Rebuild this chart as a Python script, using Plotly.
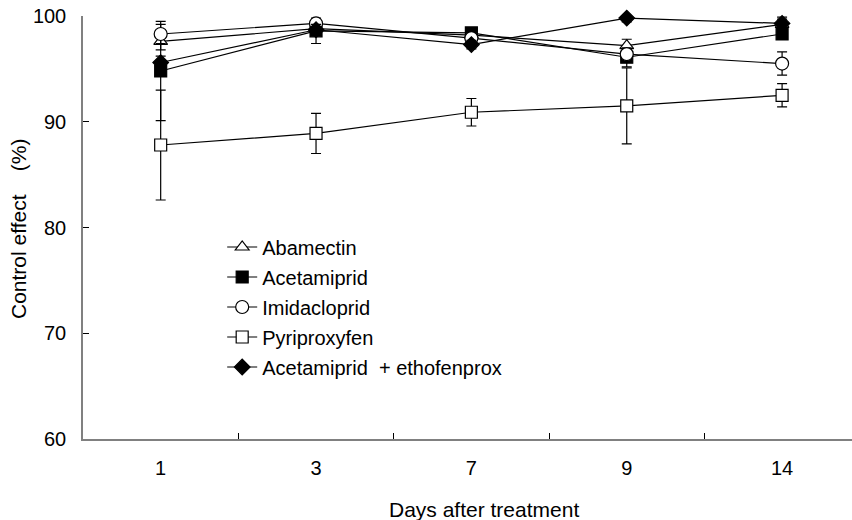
import plotly.graph_objects as go

# Days after treatment (category labels)
days = ["1", "3", "7", "9", "14"]

# Control effect (%) per insecticide, with standard deviations
abamectin = [97.6, 98.8, 98.2, 97.2, 99.2]
abamectin_sd = [0.8, 0.5, 0.5, 0.6, 0.5]

acetamiprid = [94.8, 98.6, 98.4, 96.1, 98.3]
acetamiprid_sd = [4.7, 1.2, 0.4, 0.9, 0.5]

imidacloprid = [98.3, 99.3, 97.9, 96.4, 95.5]
imidacloprid_sd = [0.9, 0.3, 0.5, 0.5, 1.1]

pyriproxyfen = [87.8, 88.9, 90.9, 91.5, 92.5]
pyriproxyfen_sd = [5.2, 1.9, 1.3, 3.6, 1.1]

combo = [95.6, 98.7, 97.3, 99.8, 99.3]
combo_sd = [0.6, 0.5, 0.4, 0.35, 0.6]

series = [
    ("Abamectin", abamectin, abamectin_sd, "triangle-up", "white", 12),
    ("Acetamiprid", acetamiprid, acetamiprid_sd, "square", "black", 12),
    ("Imidacloprid", imidacloprid, imidacloprid_sd, "circle", "white", 13),
    ("Pyriproxyfen", pyriproxyfen, pyriproxyfen_sd, "square", "white", 12),
    ("Acetamiprid\u00a0\u00a0+ ethofenprox", combo, combo_sd, "diamond", "black", 12),
]

FONT = "Liberation Sans, Arial, sans-serif"

# plot area in pixels
L, T, W, H = 83, 16, 769, 423

fig = go.Figure()
for i, (name, vals, sd, sym, fill, size) in enumerate(series):
    fig.add_trace(go.Scatter(
        x=days, y=vals, name=name, mode="lines+markers",
        legendgroup=f"g{i}",
        line=dict(color="black", width=1.2),
        marker=dict(symbol=sym, size=size,
                    color=fill, line=dict(color="black", width=1.2)),
        error_y=dict(type="data", array=sd, visible=True,
                     color="black", thickness=1.2, width=5),
        cliponaxis=False,
    ))

fig.update_layout(
    width=852, height=520,
    margin=dict(l=L, r=852 - L - W, t=T, b=520 - T - H),
    paper_bgcolor="white", plot_bgcolor="white",
    font=dict(family=FONT, size=20, color="black"),
    showlegend=True,
    legend=dict(
        x=0.181, y=0.50, xanchor="left", yanchor="top",
        bgcolor="rgba(0,0,0,0)", borderwidth=0,
        font=dict(family=FONT, size=20, color="black"),
        tracegroupgap=1,
    ),
    xaxis=dict(
        type="category", range=[-0.5, 4.45],
        showgrid=False, zeroline=False,
        showline=True, linecolor="#808080", linewidth=1.5,
        ticks="inside", ticklen=6, tickcolor="black", tickwidth=1,
        tickson="boundaries",
        ticklabelstandoff=10,
    ),
    yaxis=dict(
        range=[60, 100], tickvals=[60, 70, 80, 90, 100],
        showgrid=False, zeroline=False,
        showline=True, linecolor="#808080", linewidth=1.5,
        ticks="inside", ticklen=6, tickcolor="black", tickwidth=1,
        ticklabelstandoff=11,
    ),
    annotations=[
        dict(text="Days after treatment", showarrow=False,
             xref="paper", yref="paper",
             x=(484 - L) / W, y=(T + H - 510) / H,
             xanchor="center", yanchor="middle",
             font=dict(family=FONT, size=21)),
        dict(text="Control effect\u00a0\u00a0\u00a0\u00a0(%)", showarrow=False,
             xref="paper", yref="paper", textangle=-90,
             x=(19 - L) / W, y=(T + H - 229) / H,
             xanchor="center", yanchor="middle",
             font=dict(family=FONT, size=21)),
    ],
)

fig.write_html("out.html")
